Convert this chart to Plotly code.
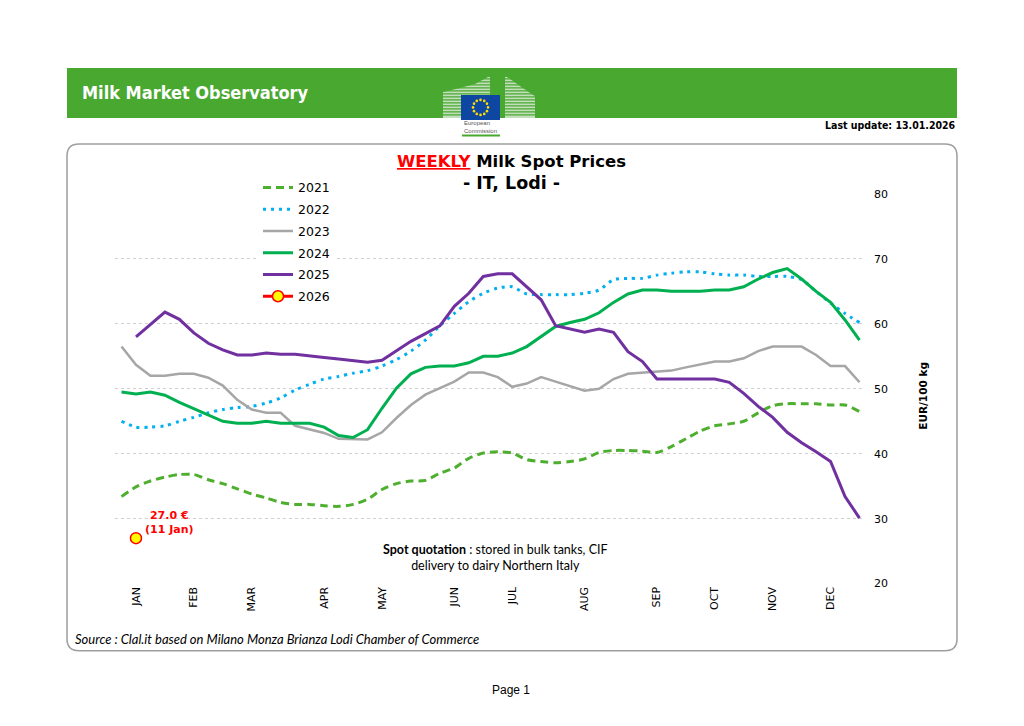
import math
import plotly.graph_objects as go

# ---- data (EUR/100 kg, weekly) ----
weeks = list(range(1, 53))

y2021 = [33.4, 34.9, 35.8, 36.4, 36.8, 36.8, 36.0, 35.4, 34.6, 33.8,
         33.2, 32.5, 32.2, 32.2, 32.0, 31.9, 32.2, 33.0, 34.5, 35.4,
         35.8, 35.9, 37.0, 37.8, 39.3, 40.1, 40.3, 40.1, 39.1, 38.8,
         38.6, 38.8, 39.2, 40.2, 40.5, 40.5, 40.4, 40.2, 41.1, 42.3,
         43.5, 44.3, 44.6, 45.0, 46.3, 47.4, 47.7, 47.7, 47.7, 47.5,
         47.5, 46.5]

y2022 = [45.0, 44.1, 44.1, 44.3, 45.0, 45.6, 46.3, 46.8, 47.1, 47.3,
         47.8, 48.6, 49.8, 50.7, 51.5, 51.9, 52.4, 52.8, 53.5, 54.5,
         55.8, 57.5, 59.7, 61.6, 63.4, 64.7, 65.5, 65.7, 64.6, 64.5,
         64.5, 64.5, 64.7, 65.2, 66.8, 67.0, 67.0, 67.5, 67.8, 68.0,
         68.0, 67.7, 67.5, 67.5, 67.3, 67.3, 67.3, 66.8, 65.0, 63.2,
         61.6, 60.2]

y2023 = [56.5, 53.7, 52.0, 52.0, 52.3, 52.3, 51.7, 50.5, 48.3, 46.8,
         46.3, 46.3, 44.3, 43.7, 43.2, 42.3, 42.3, 42.2, 43.3, 45.5,
         47.5, 49.1, 50.1, 51.1, 52.5, 52.5, 51.8, 50.3, 50.8, 51.8,
         51.1, 50.4, 49.7, 50.0, 51.5, 52.3, 52.5, 52.6, 52.8, 53.3,
         53.8, 54.2, 54.2, 54.7, 55.8, 56.5, 56.5, 56.5, 55.2, 53.5,
         53.5, 51.0]

y2024 = [49.5, 49.2, 49.5, 49.0, 47.9, 46.9, 46.0, 45.0, 44.7, 44.7,
         45.0, 44.7, 44.7, 44.7, 44.1, 42.8, 42.5, 43.7, 47.0, 50.1,
         52.3, 53.3, 53.5, 53.5, 54.0, 55.0, 55.0, 55.5, 56.5, 58.0,
         59.6, 60.2, 60.7, 61.7, 63.3, 64.6, 65.2, 65.2, 65.0, 65.0,
         65.0, 65.2, 65.2, 65.7, 66.9, 67.9, 68.5, 66.9, 65.0, 63.3,
         60.6, 57.5]

y2025 = [None, 58.0, 59.9, 61.8, 60.7, 58.6, 57.0, 56.0, 55.2, 55.2,
         55.5, 55.3, 55.3, 55.0, 54.8, 54.6, 54.4, 54.1, 54.4, 55.9,
         57.3, 58.5, 59.7, 62.7, 64.7, 67.3, 67.7, 67.7, 65.7, 63.7,
         59.7, 59.2, 58.7, 59.2, 58.7, 55.7, 54.2, 51.5, 51.5, 51.5,
         51.5, 51.5, 51.0, 49.3, 47.3, 45.6, 43.3, 41.7, 40.3, 38.8,
         33.4, 30.1]

weeks2026 = [2]
y2026 = [27.0]

month_weeks = [2, 6, 10, 15, 19, 24, 28, 33, 38, 42, 46, 50]
month_labels = ["JAN", "FEB", "MAR", "APR", "MAY", "JUN",
                "JUL", "AUG", "SEP", "OCT", "NOV", "DEC"]

# page body has an 8px margin, so the figure is a bit smaller than the window
OFF = 8
W, H = 1024 - OFF, 726 - OFF
# vertical correction measured from a test render
VS, VB = 0.9823, 6.2
VERDANA = "DejaVu Sans"
CONDENSED = "DejaVu Sans Condensed"
CALIBRI = "Lato"
HEADER_GREEN = "#49a830"


def px(x):
    return (x - OFF) / W


def py(y):
    return 1 - ((y - VB) / VS - OFF) / H


def rounded_box(x0, y0, x1, y1, r):
    # svg path in paper coordinates
    p = lambda x, y: f"{px(x):.5f},{py(y):.5f}"
    return (f"M {p(x0 + r, y0)} L {p(x1 - r, y0)} Q {p(x1, y0)} {p(x1, y0 + r)} "
            f"L {p(x1, y1 - r)} Q {p(x1, y1)} {p(x1 - r, y1)} "
            f"L {p(x0 + r, y1)} Q {p(x0, y1)} {p(x0, y1 - r)} "
            f"L {p(x0, y0 + r)} Q {p(x0, y0)} {p(x0 + r, y0)} Z")


fig = go.Figure()

series = [
    ("2021", y2021, dict(color="#4eae2e", width=3, dash="8px,5px"), "spline"),
    ("2022", y2022, dict(color="#00b0f0", width=3, dash="3px,5px"), "spline"),
    ("2023", y2023, dict(color="#a6a6a6", width=2.5), "linear"),
    ("2024", y2024, dict(color="#00b050", width=3), "linear"),
    ("2025", y2025, dict(color="#7030a0", width=3), "linear"),
]
for name, vals, line, shape in series:
    line = dict(line, shape=shape)
    if shape == "spline":
        line["smoothing"] = 0.8
    fig.add_trace(go.Scatter(x=weeks, y=vals, name=name, mode="lines",
                             line=line, legendgroup=name, connectgaps=False))

fig.add_trace(go.Scatter(
    x=weeks2026, y=y2026, name="2026", mode="lines+markers", legendgroup="2026",
    line=dict(color="#ff0000", width=3),
    marker=dict(color="#ffff00", size=11, line=dict(color="#ff0000", width=1.5)),
))

shapes = []
# header bar
shapes.append(dict(type="rect", xref="paper", yref="paper", layer="below",
                   x0=px(67), x1=px(957), y0=py(118), y1=py(68),
                   fillcolor=HEADER_GREEN, line_width=0))
# logo: building wings
wing_l = [(443, 118), (443, 92), (460, 88), (475, 84), (488, 77), (490, 77), (490, 118)]
wing_r = [(505, 118), (505, 77), (507, 77), (520, 86), (533, 95), (535, 96), (535, 118)]
for wing in wing_l, wing_r:
    path = "M " + " L ".join(f"{px(x):.5f},{py(y):.5f}" for x, y in wing) + " Z"
    shapes.append(dict(type="path", xref="paper", yref="paper", path=path,
                       fillcolor="rgba(235,240,232,0.75)", line_width=0))
for yy in range(79, 118, 3):
    shapes.append(dict(type="line", xref="paper", yref="paper",
                       x0=px(440), x1=px(538), y0=py(yy), y1=py(yy),
                       line=dict(color=HEADER_GREEN, width=1.2)))
# flag
shapes.append(dict(type="rect", xref="paper", yref="paper",
                   x0=px(461), x1=px(500), y0=py(120), y1=py(95),
                   fillcolor="#0e47a1", line_width=0))
for k in range(12):
    a = 2 * math.pi * k / 12
    cx, cy = 480.5 + 7.5 * math.cos(a), 107.5 + 7.5 * math.sin(a)
    shapes.append(dict(type="circle", xref="paper", yref="paper",
                       x0=px(cx - 1.3), x1=px(cx + 1.3), y0=py(cy + 1.3), y1=py(cy - 1.3),
                       fillcolor="#ffdd00", line_width=0))
shapes.append(dict(type="line", xref="paper", yref="paper",
                   x0=px(462), x1=px(500), y0=py(135.5), y1=py(135.5),
                   line=dict(color=HEADER_GREEN, width=2)))
# chart frame
shapes.append(dict(type="path", xref="paper", yref="paper", layer="below",
                   path=rounded_box(67, 144, 957, 651, 12),
                   line=dict(color="#9e9e9e", width=1.5), fillcolor="rgba(0,0,0,0)"))

annotations = [
    dict(text="<b>Milk Market Observatory</b>", x=px(80), y=py(93), xanchor="left",
         font=dict(family=CONDENSED, size=18, color="white")),
    dict(text="European<br>Commission", x=px(462), y=py(127), xanchor="left",
         align="left", font=dict(family="Liberation Sans", size=6, color="#555555")),
    dict(text="<b>Last update: 13.01.2026</b>", x=px(958), y=py(125), xanchor="right",
         font=dict(family=CONDENSED, size=10.5, color="black")),
    dict(text='<b><span style="color:#ff0000"><u>WEEKLY</u></span> Milk Spot Prices</b>',
         x=px(511), y=py(162), font=dict(family=VERDANA, size=16.5, color="black")),
    dict(text="<b>- IT, Lodi -</b>", x=px(511), y=py(183),
         font=dict(family=VERDANA, size=17.5, color="black")),
    dict(text="<b>EUR/100 kg</b>", x=px(923), y=py(396), textangle=-90,
         font=dict(family=VERDANA, size=10.5, color="black")),
    dict(text="<b>27.0 €<br>(11 Jan)</b>", xref="x", yref="y", x=4.35, y=29.45,
         font=dict(family=VERDANA, size=11, color="#ff0000")),
    dict(text="<b>Spot quotation</b> : stored in bulk tanks, CIF<br>delivery to dairy Northern Italy",
         x=px(495), y=py(558), font=dict(family=CALIBRI, size=12.5, color="black")),
    dict(text="<i>Source : Clal.it based on Milano Monza Brianza Lodi Chamber of Commerce</i>",
         x=px(73), y=py(639), xanchor="left",
         font=dict(family=CALIBRI, size=13, color="black")),
    dict(text="Page 1", x=px(511), y=py(690),
         font=dict(family="Liberation Sans", size=12, color="black")),
]
for a in annotations:
    a.setdefault("xref", "paper")
    a.setdefault("yref", "paper")
    a.setdefault("xanchor", "center")
    a.setdefault("yanchor", "middle")
    a["showarrow"] = False

fig.update_layout(
    width=W, height=H,
    margin=dict(l=0, r=0, t=0, b=0),
    paper_bgcolor="white", plot_bgcolor="white",
    shapes=shapes, annotations=annotations,
    showlegend=True,
    legend=dict(x=px(258), y=py(173), xanchor="left", yanchor="top",
                bgcolor="white", tracegroupgap=2.5,
                font=dict(family=VERDANA, size=12.5, color="black")),
    xaxis=dict(domain=[px(115), px(865)], range=[0.55, 52.38],
               showgrid=False, zeroline=False, showline=False,
               tickmode="array", tickvals=month_weeks, ticktext=month_labels,
               tickangle=-90, ticks="",
               tickfont=dict(family=VERDANA, size=11, color="black")),
    yaxis=dict(domain=[py(584), py(194)], range=[19.99, 80.01], side="right",
               dtick=10, showgrid=True, gridcolor="#d0d0d0", griddash="dot",
               gridwidth=1, zeroline=False, showline=False, ticks="",
               ticklabelstandoff=8,
               tickfont=dict(family=VERDANA, size=11, color="black")),
    hovermode=False,
)

fig.write_html("out.html")
